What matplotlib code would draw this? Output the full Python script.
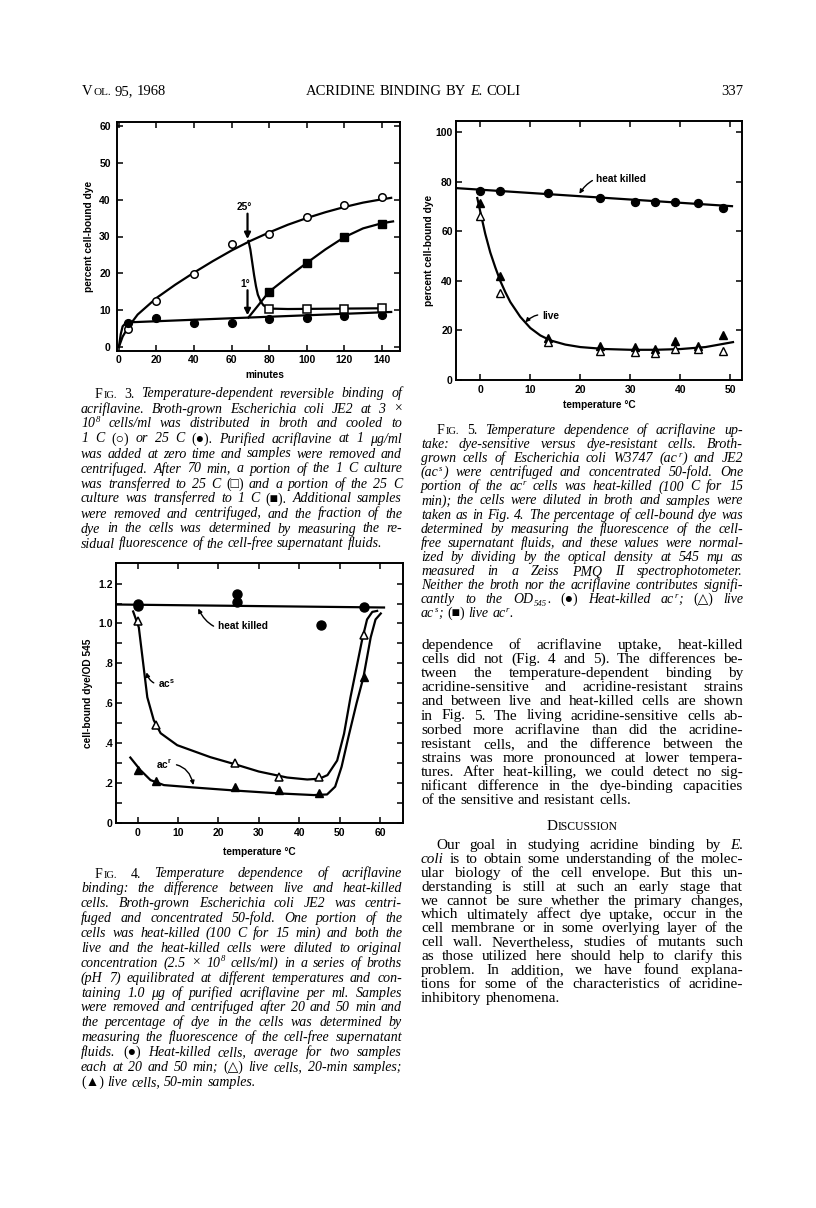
import re
import matplotlib
matplotlib.use("Agg")
import matplotlib.pyplot as plt

# ---------------- Fig. 3: percent cell-bound dye vs minutes
f3_minutes = [5, 20, 40, 60, 80, 100, 120, 140]
f3_cold = [4.8, 12.6, 19.7, 28.0, 30.6, 35.4, 38.6, 40.6]      # 1 C (open circles)
f3_warm = [6.5, 7.8, 6.6, 6.6, 7.6, 7.8, 8.4, 8.7]             # 25 C (filled circles)
f3_shift_minutes = [80, 100, 120, 140]
f3_to_warm = [10.3, 10.3, 10.4, 10.6]                          # 1 C -> 25 C (open squares)
f3_to_cold = [15.0, 22.7, 29.8, 33.4]                          # 25 C -> 1 C (filled squares)
# fitted curves
f3_cold_fit_x = [0, 2, 5, 10, 20, 30, 40, 50, 60, 70, 80, 90, 100, 110, 120, 130, 140, 145]
f3_cold_fit_y = [0, 2.8, 5.4, 8.8, 13.3, 16.9, 20.2, 23.3, 26.2, 28.8, 31.1, 33.2, 35.0, 36.6, 38.0, 39.2, 40.1, 40.5]
f3_warm_fit_x = [0, 1, 2, 3.5, 6, 70, 145]
f3_warm_fit_y = [0, 3.5, 5.6, 6.4, 6.7, 8.0, 9.5]
f3_to_warm_fit_x = [69, 70, 71, 72, 73, 74, 75.5, 77, 79, 82, 90, 140]
f3_to_warm_fit_y = [28.8, 26.5, 23.0, 19.5, 16.5, 14.2, 12.4, 11.3, 10.7, 10.4, 10.3, 10.5]
f3_to_cold_fit_x = [69, 75, 80, 90, 100, 110, 120, 130, 140, 146]
f3_to_cold_fit_y = [8.0, 11.8, 15.0, 19.0, 22.8, 26.5, 29.8, 32.2, 33.6, 34.1]
f3_xticks = [0, 20, 40, 60, 80, 100, 120, 140]
f3_yticks = [0, 10, 20, 30, 40, 50, 60]

# ---------------- Fig. 4: cell-bound dye/OD 545 vs temperature
f4_temp = [0, 4.5, 24, 35, 45, 56]
f4_live20 = [1.01, 0.49, 0.30, 0.23, 0.23, 0.94]               # open triangles
f4_live50 = [0.265, 0.21, 0.18, 0.165, 0.148, 0.73]            # filled triangles
f4_killed_temp = [0, 0, 24.5, 24.5, 45.5, 56]
f4_killed = [1.10, 1.085, 1.15, 1.107, 0.99, 1.08]
f4_killed_fit_x = [-5.3, 61]
f4_killed_fit_y = [1.095, 1.08]
f4_acs_fit_x = [-1.1, 0.3, 1.2, 2.4, 4.0, 5.7, 9.8, 18, 24, 30, 37, 42, 45, 47, 49.4, 51.1, 52.7, 54.4, 55.6, 56.8, 58.1, 59.3]
f4_acs_fit_y = [1.06, 0.98, 0.83, 0.63, 0.515, 0.45, 0.39, 0.33, 0.295, 0.258, 0.228, 0.218, 0.222, 0.24, 0.313, 0.447, 0.63, 0.80, 0.92, 1.02, 1.058, 1.063]
f4_acr_fit_x = [-1.8, 0.7, 3.2, 6.5, 13.9, 24.6, 35.3, 43.6, 46.9, 48.9, 50.5, 52.2, 54.2, 55.9, 57.7, 58.9, 60.2]
f4_acr_fit_y = [0.328, 0.265, 0.215, 0.19, 0.178, 0.162, 0.148, 0.14, 0.143, 0.182, 0.282, 0.432, 0.60, 0.73, 0.93, 1.02, 1.05]
f4_xticks = [0, 10, 20, 30, 40, 50, 60]
f4_yticks = [0, .1, .2, .3, .4, .5, .6, .7, .8, .9, 1.0, 1.1, 1.2]
f4_ytick_labels = ["0", "", ".2", "", ".4", "", ".6", "", ".8", "", "1.0", "", "1.2"]

# ---------------- Fig. 5: percent cell-bound dye vs temperature
f5_temp = [0, 4, 13.5, 24, 31, 35, 39, 43.5, 48.5]
f5_killed = [76.3, 76.3, 75.6, 73.7, 71.9, 71.9, 71.9, 71.6, 69.3]
f5_acr = [71.3, 41.9, 17.0, 13.6, 13.3, 12.6, 15.8, 13.8, 18.2]
f5_acs = [66.2, 35.3, 15.2, 11.7, 11.4, 10.8, 12.5, 12.4, 11.8]
f5_killed_fit_x = [-4.85, 50.3]
f5_killed_fit_y = [77.5, 70.2]
f5_live_fit_x = [-0.6, 0, 1, 2, 3, 4, 5, 6, 8, 10, 12, 14, 17, 20, 25, 30, 35, 40, 45, 50.5]
f5_live_fit_y = [73.5, 68, 59, 51.5, 45.5, 40, 35.5, 31.5, 25.5, 21, 18, 16, 14.3, 13.3, 12.5, 12.2, 12.2, 12.5, 13.3, 15.3]
f5_xticks = [0, 10, 20, 30, 40, 50]
f5_yticks = [0, 20, 40, 60, 80, 100]

# ---------------- page text
header_left = "@Vol. 95, 1968"
header_mid = "ACRIDINE BINDING BY <E. COLI>"
header_right = "337"

fig3_caption = [
    "@Fig. <3.> Temperature-dependent reversible binding of",
    "acriflavine. Broth-grown Escherichia coli JE2 at 3 ×",
    "10^{8} cells/ml was distributed in broth and cooled to",
    "1 C <(○)> or 25 C <(●).> Purified acriflavine at 1 μg/ml",
    "was added at zero time and samples were removed and",
    "centrifuged. After 70 min, a portion of the 1 C culture",
    "was transferred to 25 C <(□)> and a portion of the 25 C",
    "culture was transferred to 1 C <(■).> Additional samples",
    "were removed and centrifuged, and the fraction of the",
    "dye in the cells was determined by measuring the re-",
    "sidual fluorescence of the cell-free supernatant fluids.",
]
fig4_caption = [
    "@Fig. <4.> Temperature dependence of acriflavine",
    "binding: the difference between live and heat-killed",
    "cells. Broth-grown Escherichia coli JE2 was centri-",
    "fuged and concentrated 50-fold. One portion of the",
    "cells was heat-killed (100 C for 15 min) and both the",
    "live and the heat-killed cells were diluted to original",
    "concentration (2.5 × 10^{8} cells/ml) in a series of broths",
    "(pH 7) equilibrated at different temperatures and con-",
    "taining 1.0 μg of purified acriflavine per ml. Samples",
    "were removed and centrifuged after 20 and 50 min and",
    "the percentage of dye in the cells was determined by",
    "measuring the fluorescence of the cell-free supernatant",
    "fluids. <(●)> Heat-killed cells, average for two samples",
    "each at 20 and 50 min; <(△)> live cells, 20-min samples;",
    "<(▲)> live cells, 50-min samples.",
]
fig5_caption = [
    "@Fig. <5.> Temperature dependence of acriflavine up-",
    "take: dye-sensitive versus dye-resistant cells. Broth-",
    "grown cells of Escherichia coli W3747 (ac^{r}) and JE2",
    "(ac^{s}) were centrifuged and concentrated 50-fold. One",
    "portion of the ac^{r} cells was heat-killed (100 C for 15",
    "min); the cells were diluted in broth and samples were",
    "taken as in Fig. 4. The percentage of cell-bound dye was",
    "determined by measuring the fluorescence of the cell-",
    "free supernatant fluids, and these values were normal-",
    "ized by dividing by the optical density at 545 mμ as",
    "measured in a Zeiss PMQ II spectrophotometer.",
    "Neither the broth nor the acriflavine contributes signifi-",
    "cantly to the OD_{545}. <(●)> Heat-killed ac^{r}; <(△)> live",
    "ac^{s}; <(■)> live ac^{r}.",
]
body_results = [
    "dependence of acriflavine uptake, heat-killed",
    "cells did not (Fig. 4 and 5). The differences be-",
    "tween the temperature-dependent binding by",
    "acridine-sensitive and acridine-resistant strains",
    "and between live and heat-killed cells are shown",
    "in Fig. 5. The living acridine-sensitive cells ab-",
    "sorbed more acriflavine than did the acridine-",
    "resistant cells, and the difference between the",
    "strains was more pronounced at lower tempera-",
    "tures. After heat-killing, we could detect no sig-",
    "nificant difference in the dye-binding capacities",
    "of the sensitive and resistant cells.",
]
discussion_title = "@Discussion"
body_discussion = [
    "Our goal in studying acridine binding by <E.>",
    "<coli> is to obtain some understanding of the molec-",
    "ular biology of the cell envelope. But this un-",
    "derstanding is still at such an early stage that",
    "we cannot be sure whether the primary changes,",
    "which ultimately affect dye uptake, occur in the",
    "cell membrane or in some overlying layer of the",
    "cell wall. Nevertheless, studies of mutants such",
    "as those utilized here should help to clarify this",
    "problem. In addition, we have found explana-",
    "tions for some of the characteristics of acridine-",
    "inhibitory phenomena.",
]

W, H = 816, 1208
SERIF = ["Liberation Serif", "DejaVu Serif", "DejaVu Sans"]
SANS = ["Liberation Sans", "DejaVu Sans"]
plt.rcParams["font.family"] = SERIF
plt.rcParams["mathtext.fontset"] = "custom"
plt.rcParams["mathtext.bf"] = "Liberation Sans:bold"
plt.rcParams["mathtext.rm"] = "Liberation Sans:bold"

fig = plt.figure(figsize=(W / 100, H / 100), dpi=100)
fig.patch.set_facecolor("white")
renderer = fig.canvas.get_renderer()

TOKEN = re.compile(r"<|>|\^\{[^}]*\}|_\{[^}]*\}|[^<>^_]+")


def make_word(word, size, italic):
    if word.startswith("@"):  # small caps
        core = word[1:]
        specs = [(core[0], 1.0, False, 0.0), (core[1:].upper(), 0.76, False, 0.0)]
    else:
        specs = []
        it = italic
        for tok in TOKEN.findall(word):
            if tok == "<":
                it = not italic
            elif tok == ">":
                it = italic
            elif tok[0] == "^":
                specs.append((tok[2:-1], 0.62, it, 0.40))
            elif tok[0] == "_":
                specs.append((tok[2:-1], 0.62, it, -0.18))
            else:
                specs.append((tok, 1.0, it, 0.0))
    parts = []
    for s, scale, it, rise in specs:
        t = fig.text(0, 0, s, fontsize=size * scale, color="black",
                     fontstyle="italic" if it else "normal", va="baseline", ha="left")
        parts.append((t, t.get_window_extent(renderer).width, rise * size * 100 / 72))
    return parts


def text_line(line, x0, x1, y, size, italic=False, align="justify"):
    # shrink the type a little when a line would not fit its measure
    while True:
        words = [make_word(w, size, italic) for w in line.split()]
        widths = [sum(p[1] for p in wd) + 0.6 * (len(wd) - 1) for wd in words]
        em = size * 100 / 72
        natural = sum(widths)
        n = max(len(words) - 1, 1)
        if align != "justify" or (x1 - x0 - natural) / n >= 0.2 * em:
            break
        for wd in words:
            for t, _, _ in wd:
                t.remove()
        size *= 0.98
    if align == "justify" and len(words) > 1:
        gap = (x1 - x0 - natural) / (len(words) - 1)
    else:
        gap = 0.27 * em
    total = natural + gap * (len(words) - 1)
    if align == "center":
        x = (x0 + x1 - total) / 2
    elif align == "right":
        x = x1 - total
    else:
        x = x0
    for wd in words:
        for t, w, rise in wd:
            t.set_position((x / W, 1 - (y - rise) / H))
            x += w + 0.6
        x += gap - 0.6


def paragraph(lines, x0, x1, y0, step, size, italic=False, indent=0):
    for i, line in enumerate(lines):
        last = i == len(lines) - 1
        text_line(line, x0 + (indent if i == 0 else 0), x1, y0 + i * step,
                  size, italic, "left" if last else "justify")


def axes_px(left, top, right, bottom):
    return fig.add_axes([left / W, 1 - bottom / H, (right - left) / W, (bottom - top) / H])


TICKFONT = dict(fontsize=7.5, fontweight="bold", family=SANS)
LABELFONT = dict(fontsize=7.3, fontweight="bold", family=SANS)


def style_axes(ax, xticks, yticks, ylabels, xpad, ypad):
    for s in ax.spines.values():
        s.set_linewidth(1.4)
    ax.set_xticks(xticks, [str(v) for v in xticks], **TICKFONT)
    ax.set_yticks(yticks, ylabels, **TICKFONT)
    ax.tick_params(direction="in", length=4.3, width=1.1, top=True, right=True)
    ax.tick_params(axis="x", pad=xpad)
    ax.tick_params(axis="y", pad=ypad)


def curl(ax, text, xytext, xytip, rad, ha="left"):
    ax.annotate(text, xy=xytip, xytext=xytext, ha=ha, va="center", **LABELFONT,
                arrowprops=dict(arrowstyle="-|>", connectionstyle=f"arc3,rad={rad}",
                                color="black", lw=1.0, mutation_scale=6,
                                shrinkA=1, shrinkB=0))


LINE = dict(color="black", lw=1.6, zorder=2)

# ---------------- Fig. 3
ax3 = axes_px(117, 122, 400, 351)
ax3.plot(f3_cold_fit_x, f3_cold_fit_y, **LINE)
ax3.plot(f3_warm_fit_x, f3_warm_fit_y, **LINE)
ax3.plot(f3_to_warm_fit_x, f3_to_warm_fit_y, **LINE)
ax3.plot(f3_to_cold_fit_x, f3_to_cold_fit_y, **LINE)
ax3.plot(f3_minutes, f3_cold, "o", ms=5.4, mfc="white", mec="black", mew=1.1, zorder=3)
ax3.plot(f3_minutes, f3_warm, "o", ms=5.6, mfc="black", mec="black", zorder=3)
ax3.plot(f3_shift_minutes, f3_to_warm, "s", ms=5.2, mfc="white", mec="black", mew=1.1, zorder=3)
ax3.plot(f3_shift_minutes, f3_to_cold, "s", ms=5.2, mfc="black", mec="black", zorder=3)
ax3.annotate("", xy=(68.5, 29.3), xytext=(68.5, 36.2),
             arrowprops=dict(arrowstyle="-|>", lw=1.6, color="black", mutation_scale=9,
                             shrinkA=0, shrinkB=0))
ax3.text(67, 36.6, "25°", ha="center", va="bottom", **LABELFONT)
ax3.annotate("", xy=(68.5, 8.6), xytext=(68.5, 15.4),
             arrowprops=dict(arrowstyle="-|>", lw=1.6, color="black", mutation_scale=9,
                             shrinkA=0, shrinkB=0))
ax3.text(67.5, 15.8, "1°", ha="center", va="bottom", **LABELFONT)
ax3.set_xlim(-1, 149.7)
ax3.set_ylim(-1.1, 61.1)
style_axes(ax3, f3_xticks, f3_yticks, [str(v) for v in f3_yticks], 3.0, 4.5)
ax3.set_xlabel("minutes", va="center", **LABELFONT)
ax3.xaxis.set_label_coords(0.523, -0.105)
ax3.set_ylabel("percent cell-bound dye", va="center", **LABELFONT)
ax3.yaxis.set_label_coords(-0.099, 0.5)

# ---------------- Fig. 4
ax4 = axes_px(116, 563, 403, 823)
ax4.plot(f4_killed_fit_x, f4_killed_fit_y, **LINE)
ax4.plot(f4_acs_fit_x, f4_acs_fit_y, **LINE)
ax4.plot(f4_acr_fit_x, f4_acr_fit_y, **LINE)
ax4.plot(f4_killed_temp, f4_killed, "o", ms=6.5, mfc="black", mec="black", zorder=3)
ax4.plot(f4_temp, f4_live20, "^", ms=6.2, mfc="white", mec="black", mew=1.1, zorder=3)
ax4.plot(f4_temp, f4_live50, "^", ms=6.2, mfc="black", mec="black", zorder=3)
curl(ax4, "heat killed", (19.8, 0.985), (15.0, 1.075), -0.45)
curl(ax4, r"ac$^{\mathbf{s}}$", (5.0, 0.70), (2.2, 0.755), -0.5)
curl(ax4, r"ac$^{\mathbf{r}}$", (8.6, 0.295), (13.8, 0.19), -0.45, ha="right")
ax4.set_xlim(-5.35, 65.7)
ax4.set_ylim(0, 1.303)
style_axes(ax4, f4_xticks, f4_yticks, f4_ytick_labels, 3.8, 2.4)
ax4.set_xlabel("temperature °C", va="center", **LABELFONT)
ax4.xaxis.set_label_coords(0.5, -0.11)
ax4.set_ylabel("cell-bound dye/OD 545", va="center", **LABELFONT)
ax4.yaxis.set_label_coords(-0.097, 0.5)

# ---------------- Fig. 5
ax5 = axes_px(456, 121, 742, 380)
ax5.plot(f5_killed_fit_x, f5_killed_fit_y, **LINE)
ax5.plot(f5_live_fit_x, f5_live_fit_y, **LINE)
ax5.plot(f5_temp, f5_killed, "o", ms=5.7, mfc="black", mec="black", zorder=3)
ax5.plot(f5_temp, f5_acr, "^", ms=5.8, mfc="black", mec="black", zorder=3)
ax5.plot(f5_temp, f5_acs, "^", ms=5.8, mfc="white", mec="black", mew=1.0, zorder=4)
curl(ax5, "heat killed", (23.2, 81.0), (19.8, 75.2), 0.4)
curl(ax5, "live", (12.3, 26.0), (9.0, 23.3), 0.3)
ax5.set_xlim(-4.85, 52.3)
ax5.set_ylim(0, 104.6)
style_axes(ax5, f5_xticks, f5_yticks, [str(v) for v in f5_yticks], 3.4, 2.4)
ax5.set_xlabel("temperature °C", va="center", **LABELFONT)
ax5.xaxis.set_label_coords(0.5, -0.097)
ax5.set_ylabel("percent cell-bound dye", va="center", **LABELFONT)
ax5.yaxis.set_label_coords(-0.094, 0.5)

# ---------------- page text
text_line(header_left, 82, 400, 95, 10.5, False, "left")
text_line(header_mid, 295, 531, 95, 10.5, False, "center")
text_line(header_right, 600, 743, 95, 10.5, False, "right")

paragraph(fig3_caption, 81, 402, 397.5, 15.0, 10.0, True, 14)
paragraph(fig4_caption, 81, 402, 877.5, 14.88, 10.0, True, 14)
paragraph(fig5_caption, 421, 743, 434, 14.1, 10.0, True, 16)
paragraph(body_results, 421, 743, 649, 14.1, 11.0)
text_line(discussion_title, 421, 743, 830, 11.0, False, "center")
paragraph(body_discussion, 421, 743, 849, 13.9, 11.0, False, 15)

fig.savefig("out.png", dpi=100, facecolor="white")
